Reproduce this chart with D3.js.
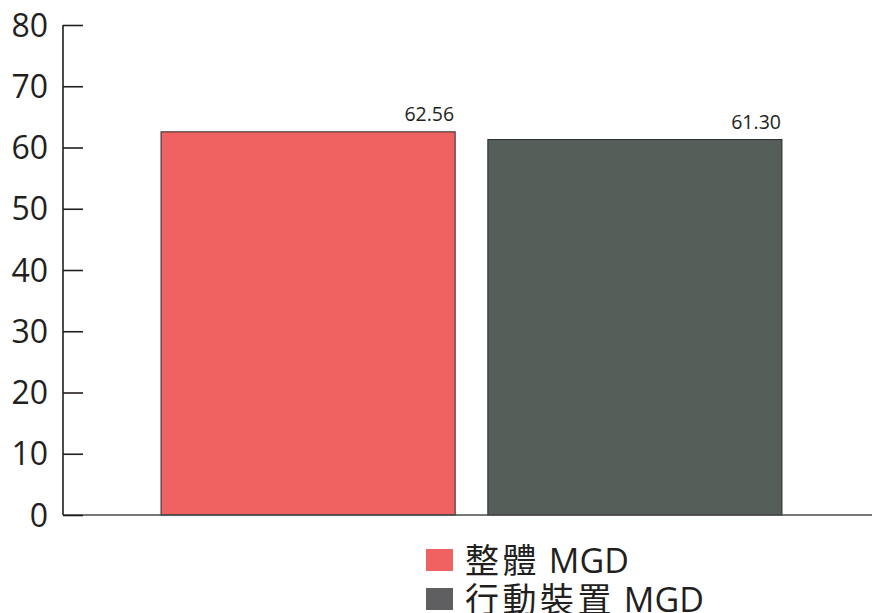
<!DOCTYPE html>
<html>
<head>
<meta charset="utf-8">
<script src="https://cdn.jsdelivr.net/npm/d3@7/dist/d3.min.js"></script>
<style>
  html, body { margin: 0; padding: 0; background: #ffffff; }
  svg { display: block; }
  text { font-family: "Open Sans", "Noto Sans CJK TC", sans-serif; fill: #231f20; }
</style>
</head>
<body>
<svg id="chart" width="872" height="613"></svg>
<script>
// Series: MGD overall vs. mobile devices
const categories = ["整體 MGD", "行動裝置 MGD"];
const values = [62.56, 61.30];
const valueLabels = ["62.56", "61.30"];
const barColors = ["#f06262", "#565e59"];
const legendColors = ["#f06262", "#5f5f61"];
const yTicks = [0, 10, 20, 30, 40, 50, 60, 70, 80];

const svg = d3.select("#chart");
const W = 872, H = 613;
const axisX = 63, yTop = 25, yBottom = 515;

const y = d3.scaleLinear().domain([0, 80]).range([yBottom, yTop]);
const x = d3.scaleBand()
  .domain(categories)
  .range([axisX, 880])
  .paddingInner(0.1)
  .paddingOuter(0.3);

// Bars
svg.append("g").selectAll("rect")
  .data(categories)
  .join("rect")
  .attr("x", d => x(d))
  .attr("y", (d, i) => y(values[i]))
  .attr("width", x.bandwidth())
  .attr("height", (d, i) => y(0) - y(values[i]))
  .attr("fill", (d, i) => barColors[i])
  .attr("stroke", "#2b2b2b")
  .attr("stroke-width", 1);

// Value labels, right-aligned over each bar
svg.append("g").selectAll("text")
  .data(categories)
  .join("text")
  .attr("x", d => x(d) + x.bandwidth() - 1)
  .attr("y", (d, i) => y(values[i]) - 11)
  .attr("text-anchor", "end")
  .attr("font-size", 19.5)
  .text((d, i) => valueLabels[i]);

// X baseline running to the right edge
svg.append("line")
  .attr("x1", axisX).attr("x2", W)
  .attr("y1", y(0)).attr("y2", y(0))
  .attr("stroke", "#4a4a4a")
  .attr("stroke-width", 1.6);

// Y axis with inward ticks
const yAxis = d3.axisRight(y)
  .tickValues(yTicks)
  .tickSize(20)
  .tickFormat("");
const gy = svg.append("g")
  .attr("transform", `translate(${axisX},0)`)
  .call(yAxis);
gy.select(".domain").remove();
gy.selectAll(".tick line").attr("stroke", "#231f20").attr("stroke-width", 1.6);
gy.append("line")
  .attr("x1", 0).attr("x2", 0)
  .attr("y1", y(80)).attr("y2", y(0))
  .attr("stroke", "#231f20")
  .attr("stroke-width", 1.6);

// Tick labels left of the axis
svg.append("g").selectAll("text")
  .data(yTicks)
  .join("text")
  .attr("x", axisX - 15)
  .attr("y", d => y(d))
  .attr("dy", "0.36em")
  .attr("text-anchor", "end")
  .attr("font-size", 32)
  .text(d => d);

// Legend: CJK part set a little wider than the Latin suffix
const legend = svg.append("g").attr("transform", "translate(426,549)");
const item = legend.selectAll("g")
  .data(categories)
  .join("g")
  .attr("transform", (d, i) => `translate(0,${i * 39})`);
item.append("rect")
  .attr("width", 27)
  .attr("height", 22)
  .attr("fill", (d, i) => legendColors[i]);
const label = item.append("text")
  .attr("x", 39)
  .attr("y", 24)
  .attr("font-size", 34);
label.append("tspan")
  .attr("letter-spacing", 3.5)
  .text(d => d.split(" ")[0]);
label.append("tspan")
  .text(d => " " + d.split(" ").slice(1).join(" "));
</script>
</body>
</html>
